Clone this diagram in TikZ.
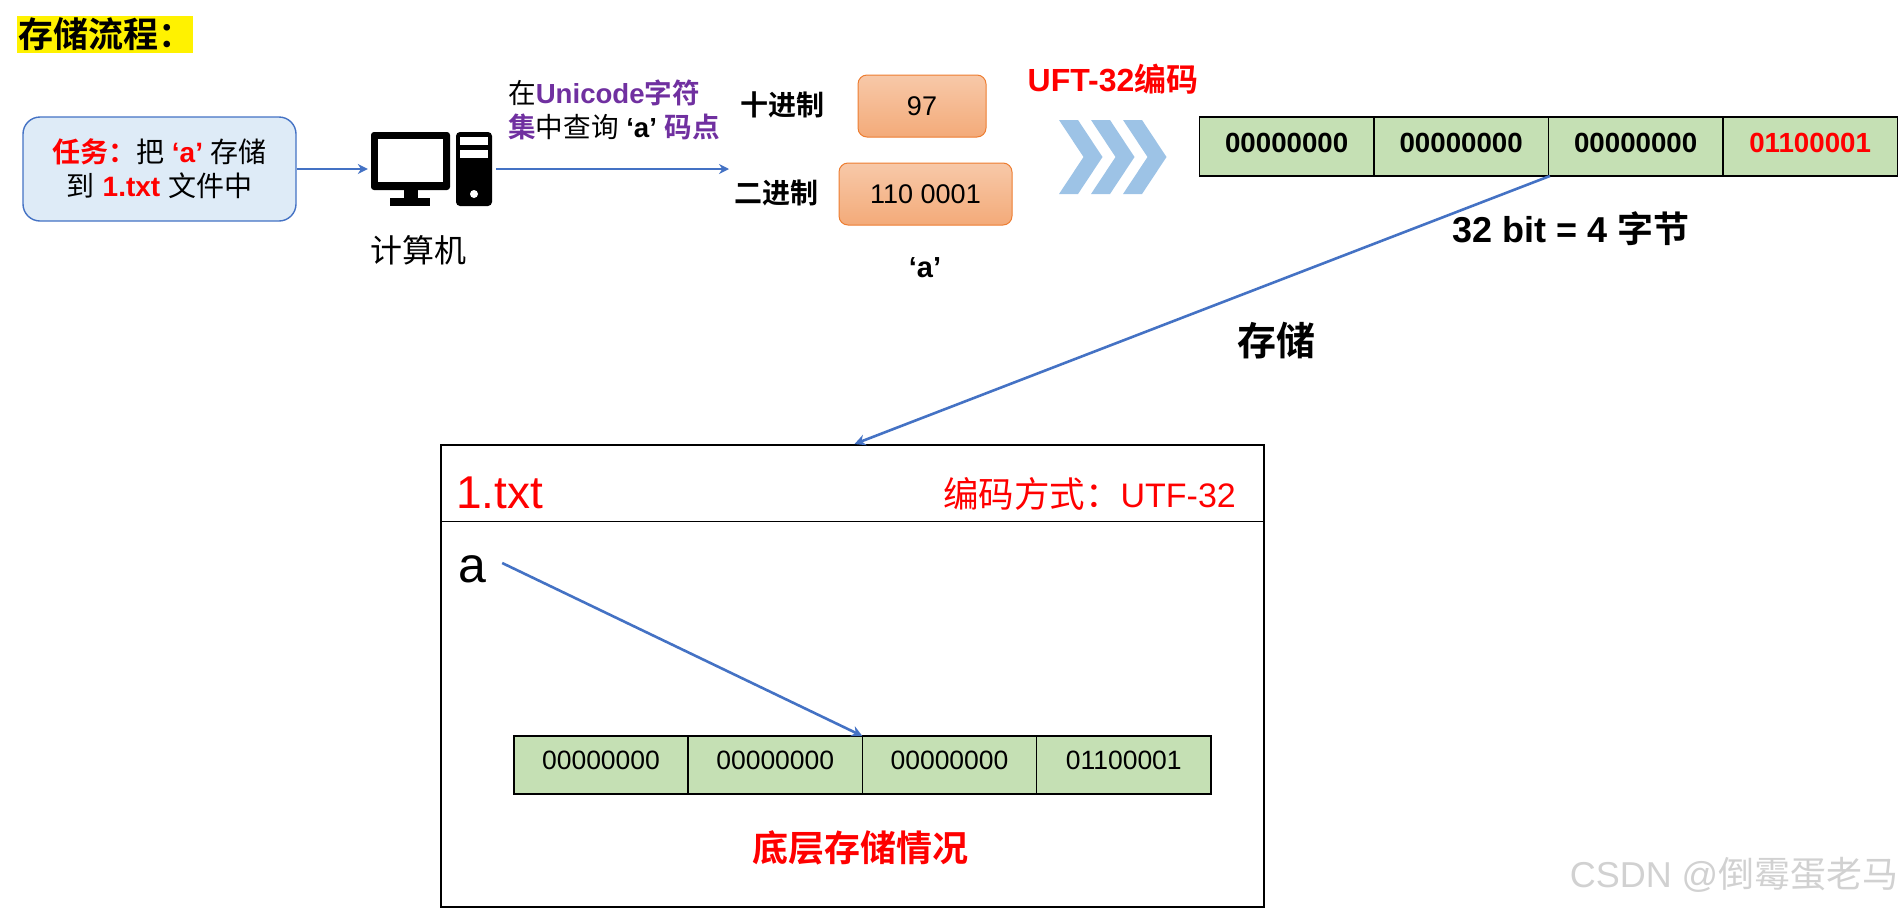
\documentclass[tikz,border=0pt]{standalone}
\usepackage{fontspec}
\setmainfont{Liberation Sans}
\newfontfamily\cjk[BoldFont={Noto Sans CJK SC Bold}]{Noto Sans CJK SC}
\newcommand{\cn}[1]{{\cjk #1}}
\newcommand{\px}[2]{\fontsize{#1pt}{#2pt}\selectfont}
\definecolor{linkblue}{HTML}{4472C4}
\definecolor{taskblue}{HTML}{DEEBF7}
\definecolor{cellgreen}{HTML}{C5E0B4}
\definecolor{lookpurple}{HTML}{7030A0}
\definecolor{codeorange}{HTML}{ED7D31}
\definecolor{chevblue}{HTML}{9DC3E6}
\usetikzlibrary{positioning, arrows.meta}

\begin{document}
\begin{tikzpicture}[x=1pt, y=-1pt,
  link/.style={draw=linkblue, line width=1.4pt, -{Stealth[length=10pt, width=10pt]}},
  longlink/.style={draw=linkblue, line width=2.6pt, -{Stealth[length=11pt, width=11pt]}},
  code/.style={draw=codeorange, line width=1pt, rounded corners=9pt, top color=codeorange!42!white,
    bottom color=codeorange!65!white, inner sep=0pt},
  cell/.style={draw=black, line width=1.6pt, fill=cellgreen, minimum width=174.5pt, minimum height=59pt,
    inner sep=0pt, outer sep=0pt, text height=20pt, text depth=9pt, font=\px{27.7}{34}\bfseries},
  cellsmall/.style={draw=black, line width=1.6pt, fill=cellgreen, minimum width=174.25pt, minimum height=58pt,
    inner sep=0pt, outer sep=0pt, text height=19pt, text depth=10pt, font=\px{26.5}{32}},
  label/.style={inner sep=0pt, font=\px{28}{34}\bfseries}]
  \useasboundingbox (0,0) rectangle (1902,908);
  % title
  \node[fill=yellow, inner xsep=1pt, inner ysep=0pt, text width=174pt, minimum height=37pt, align=left,
    font=\px{35}{37}\bfseries] (title) at (105,34.5) {\cn{存储流程：}};
  % task
  \node[draw=linkblue, line width=1.4pt, fill=taskblue, rounded corners=17pt, minimum width=273pt,
    minimum height=104pt, inner sep=0pt, align=center, font=\px{28}{34}] (task) at (159.5,169)
    {\textcolor{red}{\bfseries\cn{任务：}}\cn{把} \textcolor{red}{\bfseries ‘a’} \cn{存储}\\
     \cn{到} \textcolor{red}{\bfseries 1.txt} \cn{文件中}};
  % computer
  \node[minimum width=128pt, minimum height=74pt, inner sep=0pt] (pc) at (432,169) {};
  \fill[black, rounded corners=3pt] (371,132) rectangle (450,190);
  \fill[white] (378,139) rectangle (443,182);
  \fill[black] (404,190) rectangle (418,198);
  \fill[black] (390,198) rectangle (430,206);
  \fill[black, rounded corners=4pt] (456,132) rectangle (492,206);
  \fill[white] (460,137) rectangle (488,145);
  \fill[white] (460,150) rectangle (488,158);
  \fill[white] (474,194) circle (4);
  \node[inner sep=0pt, font=\px{32}{36}] (pcname) at (418,250) {\cn{计算机}};
  \draw[link] (task) -- (pc);
  % lookup
  \coordinate (lookend) at (729,169);
  \draw[link] (pc) -- (lookend);
  \node[inner sep=0pt, anchor=west, align=left, font=\px{27.6}{34}] (look) at (508,110)
    {\cn{在}\textcolor{lookpurple}{\bfseries Unicode\cn{字符}}\\
     \textcolor{lookpurple}{\bfseries\cn{集}}\cn{中查询} {\bfseries ‘a’} \textcolor{lookpurple}{\bfseries\cn{码点}}};
  % values
  \node[label] (dec) at (782.5,105) {\cn{十进制}};
  \node[label] (bin) at (776.5,193) {\cn{二进制}};
  \node[code, minimum width=128pt, minimum height=62pt, font=\px{27}{32}] (decval) at (922,106) {97};
  \node[code, minimum width=173pt, minimum height=62pt, font=\px{27}{32}] (binval) at (925.5,194) {110 0001};
  \node[label, font=\px{29}{34}\bfseries] (chara) at (925,268) {‘a’};
  \node[label, text=red, font=\px{32}{36}\bfseries] (uft) at (1113,79) {UFT-32\cn{编码}};
  % chevrons
  \foreach \dx in {0,32,64} {
    \begin{scope}[xshift=\dx pt]
      \fill[chevblue] (1059,120) -- (1078,120) -- (1102.5,157) -- (1078,194) -- (1059,194) -- (1083.5,157) -- cycle;
    \end{scope}
  }
  % code strip
  \node[cell] (codea) at (1286.65,146.5) {00000000};
  \node[cell, right=0pt of codea] (codeb) {00000000};
  \node[cell, right=0pt of codeb] (codec) {00000000};
  \node[cell, right=0pt of codec, text=red] (coded) {01100001};
  \node[label, font=\px{36}{40}\bfseries] (size) at (1571,229) {32 bit = 4 \cn{字节}};
  \node[label, font=\px{39}{44}\bfseries] (store) at (1276,341) {\cn{存储}};
  % file
  \node[draw=black, line width=2pt, minimum width=823pt, minimum height=462pt, inner sep=0pt] (file) at (852.5,676) {};
  \coordinate (headl) at (file.west |- 0,521);
  \coordinate (headr) at (file.east |- 0,521);
  \draw[black, line width=0.9pt] (headl) -- (headr);
  \node[inner sep=0pt, anchor=west, text=red, font=\px{46}{50}] (name) at (456,493) {1.txt};
  \node[inner sep=0pt, anchor=east, text=red, font=\px{34}{40}] (enc) at (1236,494) {{\fontsize{35.5pt}{40pt}\selectfont\cn{编码方式：}}UTF-32};
  \node[inner sep=0pt, minimum width=60pt, text height=39pt, text depth=0pt, font=\px{50}{54}] (letter) at (472,563) {a};
  % stored bytes
  \node[cellsmall] (bytea) at (601,765) {00000000};
  \node[cellsmall, right=0pt of bytea] (byteb) {00000000};
  \node[cellsmall, right=0pt of byteb] (bytec) {00000000};
  \node[cellsmall, right=0pt of bytec] (byted) {01100001};
  \node[label, text=red, font=\px{36}{40}\bfseries] (under) at (860,848) {\cn{底层存储情况}};
  \draw[longlink] ([xshift=1.5pt]codec.south west) -- ([xshift=2pt]file.north);
  \draw[longlink] (letter.east) -- (bytec.north west);
  % mark
  \node[inner sep=0pt, anchor=east, text=black!18, font=\px{36}{40}] (mark) at (1898.5,875) {CSDN @\cn{倒霉蛋老马}};
\end{tikzpicture}
\end{document}
